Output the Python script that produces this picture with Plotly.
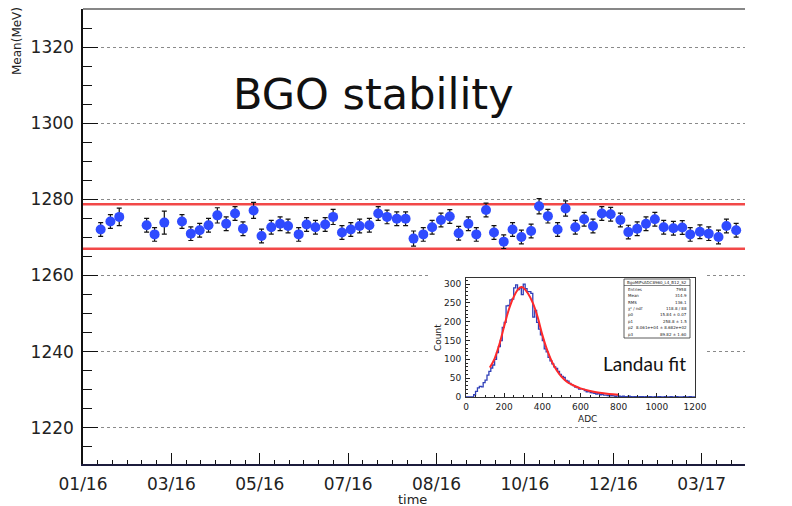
import plotly.graph_objects as go

# ---------------------------------------------------------------- data
# Weekly BGO MIP mean energy; run position is in units of the labelled ticks
date_labels = ["01/16", "03/16", "05/16", "07/16", "08/16", "10/16", "12/16", "03/17"]
run_pos = [0.20, 0.31, 0.41, 0.72, 0.81, 0.92,
           1.12, 1.22, 1.32, 1.42, 1.52, 1.62, 1.72, 1.81, 1.93, 2.02,
           2.13, 2.23, 2.32, 2.44, 2.53, 2.63, 2.74, 2.83, 2.93, 3.03,
           3.13, 3.24, 3.34, 3.44, 3.55, 3.65, 3.74, 3.85, 3.95, 4.05,
           4.15, 4.25, 4.36, 4.45, 4.56, 4.65, 4.76, 4.86, 4.96, 5.07,
           5.16, 5.26, 5.37, 5.46, 5.57, 5.67, 5.77, 5.87, 5.97, 6.08,
           6.17, 6.27, 6.37, 6.47, 6.57, 6.68, 6.78, 6.87, 6.98, 7.08,
           7.19, 7.28, 7.39]
mean_mev = [1272.1, 1274.2, 1275.4, 1273.2, 1270.8, 1273.9, 1274.2, 1271.0, 1271.9, 1273.2,
            1275.8, 1273.6, 1276.3, 1272.3, 1277.1, 1270.4, 1272.7, 1273.6, 1273.0, 1270.8,
            1273.4, 1272.7, 1273.4, 1275.4, 1271.3, 1272.1, 1273.0, 1273.2, 1276.3, 1275.4,
            1274.9, 1274.9, 1269.7, 1270.8, 1272.7, 1274.6, 1275.5, 1271.1, 1273.6, 1270.8,
            1277.2, 1271.3, 1268.9, 1272.1, 1270.1, 1271.7, 1278.2, 1275.6, 1272.1, 1277.6,
            1272.7, 1274.8, 1273.0, 1276.3, 1276.1, 1274.6, 1271.4, 1272.3, 1273.6, 1274.8,
            1272.7, 1272.4, 1272.6, 1270.8, 1271.5, 1271.0, 1270.1, 1273.0, 1271.9]
mean_err = [1.8, 1.8, 2.3, 1.8, 1.8, 3.0, 1.8, 1.8, 1.8, 1.8,
            2.0, 1.8, 1.8, 1.8, 2.1, 1.8, 1.8, 1.8, 1.8, 1.8,
            1.8, 1.8, 1.8, 2.0, 1.8, 1.8, 1.8, 1.8, 1.8, 1.8,
            1.8, 1.8, 2.0, 1.8, 1.8, 1.8, 1.8, 1.8, 1.8, 1.8,
            1.8, 1.8, 1.8, 1.8, 1.8, 1.8, 2.0, 1.8, 1.8, 2.0,
            1.8, 1.8, 1.8, 1.8, 1.8, 1.8, 1.8, 1.8, 1.8, 1.8,
            1.8, 1.8, 1.8, 1.8, 1.8, 1.8, 1.8, 1.8, 1.8]
band_mev = [1278.7, 1267.0]          # stability band
ref_mev = 1272.7                     # normalisation of the right-hand axis
y_range = [1210.5, 1330.0]
x_range = [0.0, 7.49]

# Single-channel ADC spectrum, 10 ADC bins from 0
adc_bin = 10
adc_counts = [0, 0, 0, 0, 6, 15, 24, 28, 27, 38,
              45, 58, 68, 77, 85, 100, 118, 134, 150, 185,
              198, 242, 243, 258, 260, 290, 298, 285, 290, 272,
              300, 288, 280, 280, 275, 212, 230, 198, 180, 165,
              150, 128, 120, 105, 96, 88, 80, 76, 68, 60,
              55, 52, 44, 42, 36, 33, 30, 26, 25, 21,
              22, 20, 17, 14, 15, 12, 11, 10, 8, 9,
              6, 7, 5, 5, 4, 3, 4, 3, 2, 3,
              2, 1, 2, 1, 1, 2, 1, 0, 1, 1,
              0, 1, 1, 0, 1, 0, 1, 0, 0, 1,
              0, 1, 0, 0, 1, 0, 0, 1, 0, 0,
              1, 0, 0, 0, 1, 0, 0, 1, 0, 0]
fit_adc = [125, 150, 175, 200, 225, 250, 275, 290, 300, 325, 350, 375, 400,
           425, 450, 475, 500, 525, 550, 575, 600, 650, 700, 750, 800]
fit_counts = [78, 102, 140, 188, 233, 266, 287, 292, 290, 275, 250, 213, 165,
              125, 94, 71, 54, 42, 34, 28, 23, 16, 11, 8, 6]
stats_title = "BgoMIPsADC8960_L4_B12_S2"
stats_names = ["Entries", "Mean", "RMS", "\u03c7\u00b2 / ndf", "p0", "p1", "p2", "p3"]
stats_values = ["7958", "314.9", "136.1", "118.8 / 88", "15.84 \u00b1 0.07",
                "258.8 \u00b1 1.5", "8.061e+04 \u00b1 8.682e+02", "89.82 \u00b1 1.60"]

# ---------------------------------------------------------------- geometry
W, H = 792, 506
L, R, T, B = 83, 745, 9, 464      # main frame in page pixels


def px(x):
    return (x - L) / (R - L)


def py(y):
    return (B - y) / (B - T)


FONT = "DejaVu Sans"
TXT = "#222222"

fig = go.Figure()

# main series
fig.add_trace(go.Scatter(
    x=run_pos, y=mean_mev, mode="markers",
    marker=dict(color="#2f4bff", size=10, line=dict(width=0)),
    error_y=dict(type="data", array=mean_err, color="#111111", thickness=1.2, width=2.5),
    xaxis="x", yaxis="y", showlegend=False, hoverinfo="skip"))

# white panel behind the inset
fig.add_trace(go.Scatter(x=[], y=[], xaxis="x3", yaxis="y3", showlegend=False))

# inset: histogram and fit
edges = [i * adc_bin for i in range(len(adc_counts) + 1)]
fig.add_trace(go.Scatter(
    x=edges, y=adc_counts + [adc_counts[-1]], mode="lines",
    line=dict(color="#2f3fb8", width=1.3, shape="hv"),
    xaxis="x4", yaxis="y4", showlegend=False, hoverinfo="skip"))
fig.add_trace(go.Scatter(
    x=fit_adc, y=fit_counts, mode="lines",
    line=dict(color="#ff2a2a", width=2, shape="spline"),
    xaxis="x4", yaxis="y4", showlegend=False, hoverinfo="skip"))

shapes = []
for v in band_mev:
    shapes.append(dict(type="line", xref="x domain", yref="y", x0=0, x1=1, y0=v, y1=v,
                       line=dict(color="#f24848", width=2.5), layer="below"))
# top border of the frame
shapes.append(dict(type="line", xref="paper", yref="paper", x0=0, x1=1, y0=1, y1=1,
                   line=dict(color="#111111", width=1.2)))
# statistics box
shapes.append(dict(type="rect", xref="paper", yref="paper",
                   x0=px(624), x1=px(690), y0=py(279), y1=py(338),
                   line=dict(color="#333333", width=0.8), fillcolor="white", layer="above"))
shapes.append(dict(type="line", xref="paper", yref="paper",
                   x0=px(624), x1=px(690), y0=py(285.5), y1=py(285.5),
                   line=dict(color="#333333", width=0.6), layer="above"))

ann = []
ann.append(dict(text="BGO stability", x=px(373), y=py(94), xref="paper", yref="paper",
                showarrow=False, xanchor="center", yanchor="middle",
                font=dict(family=FONT, size=43, color="#111111")))
ann.append(dict(text="Mean(MeV)", x=px(17), y=py(41), xref="paper", yref="paper",
                showarrow=False, textangle=-90, xanchor="center", yanchor="middle",
                font=dict(family=FONT, size=12, color=TXT)))
ann.append(dict(text="time", x=px(412), y=py(499), xref="paper", yref="paper",
                showarrow=False, xanchor="center", yanchor="middle",
                font=dict(family=FONT, size=13, color=TXT)))
ann.append(dict(text="Landau fit", x=px(644), y=py(363), xref="paper", yref="paper",
                showarrow=False, xanchor="center", yanchor="middle",
                font=dict(family="Lato", size=19, color="#111111")))
ann.append(dict(text="Count", x=px(438), y=py(338), xref="paper", yref="paper",
                showarrow=False, textangle=-90, xanchor="center", yanchor="middle",
                font=dict(family=FONT, size=9, color=TXT)))
ann.append(dict(text="ADC", x=px(587), y=py(419), xref="paper", yref="paper",
                showarrow=False, xanchor="center", yanchor="middle",
                font=dict(family=FONT, size=9, color=TXT)))
ann.append(dict(text=stats_title, x=px(657), y=py(282.3), xref="paper", yref="paper",
                showarrow=False, xanchor="center", yanchor="middle",
                font=dict(family=FONT, size=4, color=TXT)))
for i, (n, v) in enumerate(zip(stats_names, stats_values)):
    yy = 289.3 + i * 6.4
    ann.append(dict(text=n, x=px(626), y=py(yy), xref="paper", yref="paper",
                    showarrow=False, xanchor="left", yanchor="middle",
                    font=dict(family=FONT, size=4, color=TXT)))
    ann.append(dict(text=v, x=px(688.5), y=py(yy), xref="paper", yref="paper",
                    showarrow=False, xanchor="right", yanchor="middle",
                    font=dict(family=FONT, size=4, color=TXT)))

right_vals = [0.96, 0.97, 0.98, 0.99, 1.00, 1.01, 1.02, 1.03, 1.04]
right_text = ["0.96", "0.97", "0.98", "0.99", "\u2007\u2007\u2008 1", "1.01", "1.02", "1.03", "1.04"]

fig.update_layout(
    width=W, height=H,
    margin=dict(l=L, r=W - R, t=T, b=H - B, pad=0),
    paper_bgcolor="white", plot_bgcolor="white",
    showlegend=False,
    font=dict(family=FONT, color=TXT),
    shapes=shapes, annotations=ann,
    xaxis=dict(domain=[0, 1], range=x_range, anchor="y",
               tickmode="array", tickvals=list(range(len(date_labels))), ticktext=date_labels,
               ticks="inside", ticklen=11, tickwidth=1.2, tickcolor="#111111",
               minor=dict(ticks="inside", ticklen=4, tick0=0, dtick=1 / 6, tickcolor="#111111"),
               showline=True, linecolor="#1c1c3c", linewidth=2.4, mirror=False,
               showgrid=False, zeroline=False, ticklabelstandoff=3,
               tickfont=dict(family=FONT, size=17, color=TXT)),
    yaxis=dict(domain=[0, 1], range=y_range, anchor="x",
               tickmode="linear", tick0=1220, dtick=20,
               ticks="inside", ticklen=15, tickwidth=1.2, tickcolor="#111111",
               minor=dict(ticks="inside", ticklen=9, tick0=1200, dtick=5, tickcolor="#111111",
                          showgrid=False),
               showline=True, linecolor="#111111", linewidth=1.5,
               showgrid=True, gridcolor="#8a8a8a", gridwidth=1, griddash="dot",
               zeroline=False, ticklabelstandoff=4,
               tickfont=dict(family=FONT, size=17, color=TXT)),
    yaxis2=dict(overlaying="y", side="right", anchor="x",
                range=[y_range[0] / ref_mev, y_range[1] / ref_mev],
                tickmode="array", tickvals=right_vals, ticktext=right_text,
                ticks="inside", ticklen=14, tickwidth=1.2, tickcolor="#111111",
                minor=dict(ticks="inside", ticklen=7, tick0=0.95, dtick=0.002, tickcolor="#111111"),
                showline=True, linecolor="#111111", linewidth=1.5,
                showgrid=False, zeroline=False, ticklabelstandoff=5,
                tickfont=dict(family=FONT, size=17, color=TXT)),
    xaxis3=dict(domain=[px(430), px(705)], anchor="y3", visible=False, range=[0, 1]),
    yaxis3=dict(domain=[py(424), py(272)], anchor="x3", visible=False, range=[0, 1]),
    xaxis4=dict(domain=[px(466), px(695)], anchor="y4", range=[0, 1200],
                tickmode="linear", tick0=0, dtick=200,
                ticks="inside", ticklen=4, tickcolor="#222222",
                minor=dict(ticks="inside", ticklen=2, dtick=50, tickcolor="#222222"),
                showline=True, mirror=True, linecolor="#333333", linewidth=0.8,
                showgrid=False, zeroline=False, ticklabelstandoff=1,
                tickfont=dict(family=FONT, size=9, color=TXT)),
    yaxis4=dict(domain=[py(397), py(278)], anchor="x4", range=[0, 316],
                tickmode="linear", tick0=0, dtick=50,
                ticks="inside", ticklen=4, tickcolor="#222222",
                minor=dict(ticks="inside", ticklen=2, dtick=10, tickcolor="#222222"),
                showline=True, mirror=True, linecolor="#333333", linewidth=0.8,
                showgrid=False, zeroline=False, ticklabelstandoff=2,
                tickfont=dict(family=FONT, size=9, color=TXT)),
)

fig.write_html("out.html")
